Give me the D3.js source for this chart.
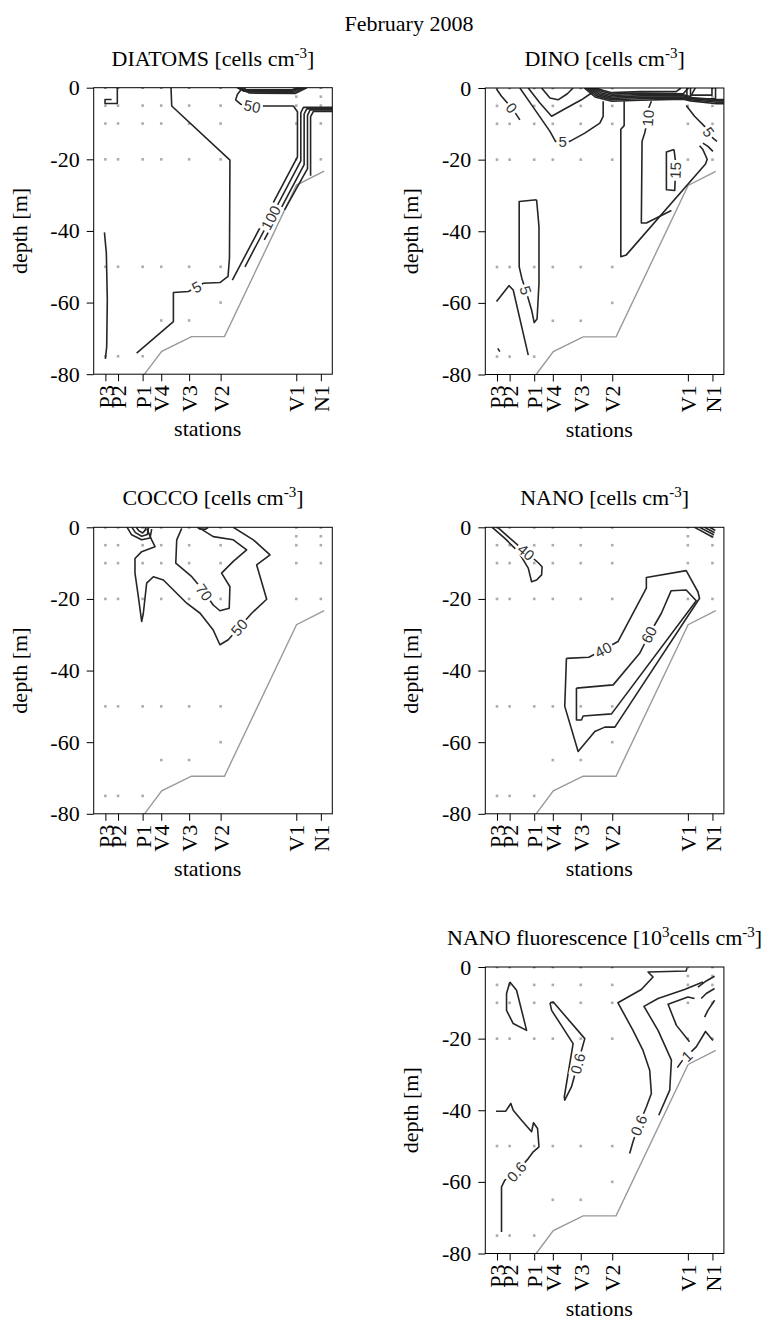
<!DOCTYPE html>
<html>
<head>
<meta charset="utf-8">
<script src="https://cdn.jsdelivr.net/npm/d3@7"></script>
<style>
  body { margin: 0; background: #fff; }
  svg text { font-family: "Liberation Serif", "Times New Roman", serif; fill: #000; }
</style>
</head>
<body>
<svg id="chart" width="770" height="1320"></svg>
<script>
// stations along the transect (distance units) and sampled depths
const stations = ["P3", "P2", "P1", "V4", "V3", "V2", "V1", "N1"];
const stationDist = [4.9, 10.2, 20.5, 28.3, 40.0, 53.2, 84.9, 95.2];
const sampleDepths = [
  [0, -5, -10, -20, -50, -75],
  [0, -5, -10, -20, -50, -75],
  [0, -5, -10, -20, -50, -75],
  [0, -5, -10, -20, -50, -65],
  [0, -5, -10, -20, -50, -65],
  [0, -5, -10, -20, -50, -60],
  [0, -2.5, -5, -10, -20],
  [0, -2.5, -5, -10, -20]
];
const depthTicks = [0, -20, -40, -60, -80];

// sea floor
const bottomDist = [21.3, 28.5, 41.0, 54.8, 85.0, 96.6];
const bottomDepth = [-80, -73.6, -69.5, -69.5, -27.2, -23.3];

// contour lines, [distance, depth]
const diatomLines = [
  {pts: [[9.9,0],[9.9,-4.4],[4.75,-4.4],[4.75,-3.3],[7.5,-3.3]]},
  {pts: [[32.4,0],[32.7,-5.1],[57.1,-20.2],[56.9,-47.6],[56.3,-52.7],[52.9,-54.4],[46,-54.6],[39.7,-56.9],[33.4,-57.2],[33.4,-65.3],[18.0,-74.1]], label: "5", at: [43.2,-55.8]},
  {pts: [[4.5,-40.4],[5.3,-46.2],[5.7,-59.3],[5.45,-72.3],[4.9,-75.7]]},
  {pts: [[60.2,0],[62.0,-0.6],[83.0,-0.6],[85.8,0]]},
  {pts: [[60.6,0],[62.5,-0.8],[83.2,-0.8],[86.5,0]]},
  {pts: [[61.1,0],[63.0,-1.0],[83.4,-1.0],[87.2,0]]},
  {pts: [[62.0,0],[64.1,-1.2],[84.0,-1.3],[88.2,0]]},
  {pts: [[63.0,0],[65.2,-1.5],[84.4,-1.6],[89.3,0]]},
  {pts: [[62.4,0],[60.2,-1.9],[59.5,-3.4],[61.6,-4.6],[66.5,-5.2],[71.1,-5.1],[83.7,-5.1],[85.4,-6.7],[85.4,-19.3],[58.1,-53.7]], label: "50", at: [66.5,-5.1]},
  {pts: [[100,-5.5],[87.9,-5.5],[86.8,-7.0],[86.8,-20.4],[63.4,-50.0]], label: "100", at: [73.5,-36]},
  {pts: [[100,-5.9],[89.3,-5.9],[88.2,-7.3],[88.2,-21.5],[71.5,-42.5]]},
  {pts: [[100,-6.2],[90.7,-6.2],[89.6,-7.7],[89.6,-22.6],[80.0,-34.1]]},
  {pts: [[100,-6.6],[92.1,-6.6],[90.9,-8.1],[90.9,-24.6]]}
];

const dinoLines = [
  {pts: [[4.7,-0.3],[6.8,-2.3],[11.7,-6.1],[14.5,-8.9]], label: "0", at: [11.0,-5.6]},
  {pts: [[14.5,0],[19.4,-4.7],[27.1,-12.1],[29.4,-14.9],[32.4,-14.9],[35.4,-14.9],[41.7,-12.6],[48.0,-9.8],[49.4,-7.9],[49.4,-3.7]], label: "5", at: [32.4,-14.9]},
  {pts: [[18.0,0],[22.9,-4.2],[27.8,-7.9],[34.0,-5.6],[40.3,-3.3],[44.5,-1.4]]},
  {pts: [[23.6,0],[27.1,-2.8],[30.5,-3.3],[34.4,-1.6],[36.8,0]]},
  {pts: [[41.5,0],[46,-2.5],[53,-3.7],[65,-3.4],[83,-3.1],[86,-3.6],[97,-4.4],[100,-4.4]]},
  {pts: [[42.3,0],[46.6,-2.2],[53,-3.3],[65,-3.0],[83,-2.8],[86,-3.3],[97,-4.0],[100,-4.0]]},
  {pts: [[43.1,0],[47.2,-1.9],[53,-2.9],[65,-2.6],[83,-2.5],[86,-3.0],[97,-3.6],[100,-3.6]]},
  {pts: [[43.9,0],[47.8,-1.6],[53,-2.5],[65,-2.2],[83,-2.2],[86,-2.7],[97,-3.2],[100,-3.2]]},
  {pts: [[44.7,0],[48.4,-1.3],[53,-2.1],[65,-1.8],[83,-1.9],[86,-2.4],[88,0]]},
  {pts: [[45.5,0],[49,-1.0],[53,-1.7],[65,-1.4],[83,-1.6],[85,0]]},
  {pts: [[46.3,0],[49.6,-0.7],[53,-1.3],[65,-1.0],[80,-1.0],[82,0]]},
  {pts: [[84.5,0],[84.5,-3.0],[96.5,-3.0],[96.5,0]]},
  {pts: [[86,0],[86,-2],[95,-2],[95,0]]},
  {pts: [[58.2,-3.7],[58.2,-10.5],[56.8,-11.5],[56.8,-47.1],[59.1,-46.6],[92.3,-21.2],[93.0,-19.9],[91.2,-17.2],[89.8,-16.1]]},
  {pts: [[69.6,-3.7],[68.5,-5.6],[68.2,-8.4],[66.8,-12.6],[65.7,-14.9],[65.4,-37.7],[67.5,-37.7],[78.0,-34.2]], label: "10", at: [68.2,-8.4]},
  {pts: [[79.1,-17.2],[75.9,-17.9],[75.9,-28.4],[79.4,-28.6],[79.8,-21.0],[79.1,-17.2]], label: "15", at: [79.6,-23]},
  {pts: [[84.2,-4.9],[87.7,-7.9],[91.9,-10.7],[95.4,-14.0],[97.1,-14.9]], label: "5", at: [94.2,-12]},
  {pts: [[91.2,-15.4],[93.3,-16.3],[95.4,-17.7]]},
  {pts: [[21.5,-31.2],[14.2,-31.7],[14.2,-49.9],[15.3,-53.1],[17.2,-57.0],[19.4,-62.0],[20.5,-65.5],[21.7,-64.5],[22.5,-54.5],[22.5,-38.7],[21.5,-31.2]], label: "5", at: [16.9,-56.5]},
  {pts: [[4.7,-59.6],[9.9,-55.2],[11.7,-56.4],[18.0,-74.6]]},
  {pts: [[5.2,-72.7],[6.1,-73.6]]}
];

const coccoLines = [
  {pts: [[22.2,-0.3],[24.3,-3.5],[25.7,-5.4],[20.1,-6.8],[17.3,-8.7],[17.3,-12.8],[18.7,-19.3],[20.1,-26.3],[20.8,-24.0],[22.2,-15.6],[25.0,-13.8],[29.2,-14.7],[39.0,-21.2],[44.6,-24.0],[50.1,-28.7],[52.9,-32.8],[56.4,-31.4],[66.2,-24.0],[72.5,-20.1],[68.3,-10.5],[73.9,-7.7],[66.9,-3.5],[58.5,0]], label: "50", at: [61.0,-28.0]},
  {pts: [[36.9,-0.3],[34.8,-3.5],[34.4,-10.0],[41.1,-13.8],[44.6,-16.6],[50.1,-21.7],[52.9,-23.3],[56.8,-22.6],[57.1,-16.6],[53.6,-12.8],[58.5,-9.5],[64.1,-6.3],[58.5,-3.5],[50.1,-2.6],[44.6,-0.3]], label: "70", at: [46.2,-18.2]},
  {pts: [[14.0,0],[15.9,-2.1],[20.1,-3.5],[23.6,-3.0],[24.3,-0.5]]},
  {pts: [[16.0,0],[17.5,-1.5],[20.1,-2.5],[22.5,-2.0],[23.0,0]]},
  {pts: [[17.8,0],[19.0,-1.0],[20.5,-1.6],[21.6,-0.8],[21.8,0]]},
  {pts: [[43.5,0],[44.5,-0.5],[47,-0.5],[48,0]]}
];

const nanoLines = [
  {pts: [[2.9,0],[8.2,-3.1],[13.8,-6.8],[18.0,-11.4],[19.4,-15.2],[21.5,-14.7],[23.6,-13.3],[23.8,-11.0],[22.2,-9.9],[9.9,-2.8],[5.2,0]], label: "40", at: [17.3,-6.8]},
  {pts: [[34.0,-36.6],[43.4,-36.3],[49.4,-34.2],[55.6,-31.9],[67.5,-17.0],[67.5,-14.0],[84.2,-12.1],[89.1,-18.0],[89.8,-19.8],[54.3,-55.8],[50.1,-55.8],[45.9,-57.0],[38.9,-62.6],[33.3,-50.0],[34.0,-36.6]], label: "40", at: [49.4,-34.2]},
  {pts: [[38.2,-44.9],[53.6,-44.0],[64.7,-35.2],[68.6,-30.0],[73.8,-24.0],[77.9,-17.7],[84.2,-17.5],[88.4,-20.5],[52.9,-52.1],[41.0,-52.7],[40.3,-53.8],[38.2,-53.8],[38.2,-44.9]], label: "60", at: [68.6,-30.0]},
  {pts: [[87.7,0],[95.4,-2.8]]},
  {pts: [[89.8,0],[95.8,-2.1]]},
  {pts: [[91.9,0],[96.1,-1.5]]},
  {pts: [[94.0,0],[96.4,-0.9]]}
];

const fluoLines = [
  {pts: [[10.3,-4.2],[8.9,-7.4],[8.9,-12.1],[11.7,-15.8],[17.3,-17.7],[16.6,-15.8],[13.1,-6.5],[10.3,-4.2]]},
  {pts: [[27.1,-10.0],[28.5,-9.8],[41.7,-20.0],[40.3,-23.3],[36.1,-33.5],[33.3,-37.2],[33.1,-36.3],[35.4,-27.0],[36.8,-21.4],[27.8,-12.1],[27.1,-10.0]], label: "0.6", at: [39.0,-27.0]},
  {pts: [[84.5,-0.3],[84.2,-1.1],[68.2,-1.4],[70.3,-2.8],[65.4,-6.3],[55.6,-10.0],[61.9,-17.7],[66.1,-23.3],[68.9,-28.8],[69.6,-35.3],[67.5,-39.1],[64.3,-44.2],[61.9,-48.8],[60.5,-52.1]], label: "0.6", at: [64.3,-44.2]},
  {pts: [[91.2,-4.2],[83.5,-6.3],[72.4,-8.8],[66.5,-11.0],[72.4,-17.7],[78.0,-26.0],[77.3,-34.4],[72.7,-41.4]]},
  {pts: [[87.7,-8.8],[84.9,-8.4],[76.6,-10.4],[80.1,-16.3],[85.6,-20.9]]},
  {pts: [[80.5,-28.1],[82.7,-26.0],[88.4,-22.3],[92.3,-18.0],[95.4,-20.5]], label: "1", at: [84.5,-24.8]},
  {pts: [[96.1,-2.6],[92.6,-3.9],[89.1,-5.6]]},
  {pts: [[96.1,-6.0],[92.6,-7.4],[90.5,-8.8]]},
  {pts: [[96.1,-9.3],[93.3,-12.1],[91.9,-14.0]]},
  {pts: [[4.5,-40.3],[8.5,-40.3],[10.7,-38.1],[11.7,-40.0],[15.2,-42.8],[19.4,-46.0],[20.2,-43.5],[21.9,-45.1],[22.5,-50.2],[20.1,-51.6],[18.0,-53.5],[13.1,-57.2],[8.2,-59.5],[6.8,-61.4],[6.8,-74.0]], label: "0.6", at: [13.1,-57.2]}
];

// title pieces: [text, superscript?]
const panels = [
  {title: [["DIATOMS [cells cm"], ["-3", true], ["]"]], lines: diatomLines, pos: [93.7, 87.7]},
  {title: [["DINO [cells cm"], ["-3", true], ["]"]], lines: dinoLines, pos: [485.3, 88]},
  {title: [["COCCO [cells cm"], ["-3", true], ["]"]], lines: coccoLines, pos: [93.7, 527.3]},
  {title: [["NANO [cells cm"], ["-3", true], ["]"]], lines: nanoLines, pos: [485.3, 527.3]},
  {title: [["NANO fluorescence [10"], ["3", true], ["cells cm"], ["-3", true], ["]"]], lines: fluoLines, pos: [485.3, 967]}
];

const W = 238.6, H = 286.5;
const svg = d3.select("#chart");

svg.append("text")
  .attr("x", 409).attr("y", 31)
  .attr("text-anchor", "middle")
  .style("font-size", "22px")
  .text("February 2008");

const x = d3.scaleLinear().domain([0, 100]).range([0, W]);
const y = d3.scaleLinear().domain([0, -80]).range([0, H]);
const line = d3.line().x(d => x(d[0])).y(d => y(d[1]));

// put a label on the nearest point of its line, turned along it
function labelSpot(pts, at) {
  const px = x(at[0]), py = y(at[1]);
  let best = null;
  for (let i = 0; i < pts.length - 1; i++) {
    const ax = x(pts[i][0]), ay = y(pts[i][1]);
    const bx = x(pts[i + 1][0]), by = y(pts[i + 1][1]);
    const dx = bx - ax, dy = by - ay;
    const len2 = dx * dx + dy * dy || 1;
    let t = ((px - ax) * dx + (py - ay) * dy) / len2;
    t = Math.max(0, Math.min(1, t));
    const cx = ax + t * dx, cy = ay + t * dy;
    const dist = (cx - px) ** 2 + (cy - py) ** 2;
    if (!best || dist < best.dist) {
      let a = Math.atan2(dy, dx) * 180 / Math.PI;
      if (a > 90) a -= 180;
      if (a <= -90) a += 180;
      best = {x: cx, y: cy, a: a, dist: dist};
    }
  }
  return best;
}

panels.forEach(function (p, pi) {
  const g = svg.append("g").attr("transform", "translate(" + p.pos[0] + "," + p.pos[1] + ")");

  g.append("clipPath").attr("id", "clip" + pi)
    .append("rect").attr("width", W).attr("height", H);

  const plot = g.append("g").attr("clip-path", "url(#clip" + pi + ")");

  // sample points
  stations.forEach(function (s, i) {
    sampleDepths[i].forEach(function (d) {
      plot.append("rect")
        .attr("x", x(stationDist[i]) - 1.3)
        .attr("y", y(d) - 1.3)
        .attr("width", 2.6).attr("height", 2.6)
        .attr("fill", d === 0 ? "#8a8a8a" : "#acacac");
    });
  });

  // sea floor
  plot.append("path")
    .datum(d3.zip(bottomDist, bottomDepth))
    .attr("d", line)
    .attr("fill", "none")
    .attr("stroke", "#999")
    .attr("stroke-width", 1.4);

  // contours
  plot.selectAll("path.contour")
    .data(p.lines)
    .enter().append("path")
    .attr("class", "contour")
    .attr("d", d => line(d.pts))
    .attr("fill", "none")
    .attr("stroke", "#262626")
    .attr("stroke-width", 1.6)
    .attr("stroke-linejoin", "round");

  p.lines.filter(d => d.label).forEach(function (d) {
    const s = labelSpot(d.pts, d.at);
    const lg = plot.append("g")
      .attr("transform", "translate(" + s.x + "," + s.y + ") rotate(" + s.a + ")");
    const t = lg.append("text")
      .attr("text-anchor", "middle")
      .attr("dy", "0.36em")
      .style("font-family", "'Liberation Sans', Arial, sans-serif")
      .style("font-size", "15px")
      .style("fill", "#333")
      .text(d.label);
    const w = t.node().getComputedTextLength();
    lg.insert("rect", "text")
      .attr("x", -w / 2 - 2).attr("y", -6.5)
      .attr("width", w + 4).attr("height", 13)
      .attr("fill", "#fff");
  });

  // frame
  g.append("rect")
    .attr("width", W).attr("height", H)
    .attr("fill", "none").attr("stroke", "#000").attr("stroke-width", 1);

  // axes
  const ya = g.append("g")
    .call(d3.axisLeft(y).tickValues(depthTicks).tickFormat(d => String(d)).tickSize(7).tickSizeOuter(0).tickPadding(7));
  ya.select(".domain").remove();
  ya.selectAll("text").style("font-family", "'Liberation Serif', serif").style("font-size", "22px");

  const xa = g.append("g")
    .attr("transform", "translate(0," + H + ")")
    .call(d3.axisBottom(x).tickValues(stationDist).tickFormat((d, i) => stations[i]).tickSize(7).tickSizeOuter(0));
  xa.select(".domain").remove();
  xa.selectAll("text")
    .style("font-family", "'Liberation Serif', serif").style("font-size", "22px")
    .attr("transform", "rotate(-90)")
    .attr("text-anchor", "end")
    .attr("x", -11).attr("y", 0).attr("dy", "0.35em");

  // labels
  g.append("text")
    .attr("transform", "translate(-67," + (H / 2) + ") rotate(-90)")
    .attr("text-anchor", "middle")
    .style("font-size", "22px")
    .text("depth [m]");

  g.append("text")
    .attr("x", 114).attr("y", H + 62)
    .attr("text-anchor", "middle")
    .style("font-size", "22px")
    .text("stations");

  const title = g.append("text")
    .attr("x", W / 2).attr("y", -22)
    .attr("text-anchor", "middle")
    .style("font-size", "22px");
  p.title.forEach(function (part) {
    if (part[1]) {
      title.append("tspan").attr("dy", -8).style("font-size", "15px").text(part[0]);
    } else {
      const ts = title.append("tspan").text(part[0]);
      if (title.selectAll("tspan").size() > 1) ts.attr("dy", 8);
    }
  });
});
</script>
</body>
</html>
